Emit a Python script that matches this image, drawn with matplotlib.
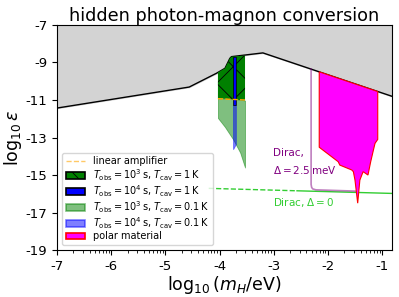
import numpy as np
import matplotlib
matplotlib.use("Agg")
import matplotlib.pyplot as plt
from matplotlib.ticker import FixedLocator
from matplotlib.patches import Patch

plt.rcParams['axes.unicode_minus'] = False
plt.rcParams['font.family'] = ['DejaVu Sans']
plt.rcParams['hatch.linewidth'] = 0.6

# ---- data (log10 m_H [eV], log10 epsilon) ----
excl_x = [-7.0, -4.56, -4.06, -3.9, -3.81, -3.78, -3.2, -0.82]
excl_y = [-11.43, -10.31, -9.58, -9.31, -8.78, -8.69, -8.49, -10.8]

hot3_x = [-4.03, -3.9, -3.81, -3.78, -3.53]
hot3_top = [-9.53, -9.31, -8.78, -8.69, -8.63]
hot3_bot = [-10.93, -10.94, -10.95, -10.96, -11.03]

cold3_x = [-4.03, -3.9, -3.75, -3.62, -3.53]
cold3_top = [-10.93, -10.94, -10.95, -10.98, -11.03]
cold3_bot = [-11.96, -12.44, -13.1, -13.8, -14.6]

hot4_x = [-3.75, -3.70]
hot4_top = [-8.70, -8.69]
hot4_bot = [-11.27, -11.27]

cold4_x = [-3.75, -3.70]
cold4_top = [-11.27, -11.27]
cold4_bot = [-13.62, -13.35]

amp_x = [-4.03, -3.53]
amp_y = [-10.93, -11.0]

polar_x = [-2.16, -2.16, -1.81, -1.78, -1.56, -1.53, -1.50, -1.45, -1.41,
           -1.35, -1.26, -1.21, -1.16, -1.13, -1.08, -1.08]
polar_y = [-9.50, -13.52, -14.29, -14.47, -14.73, -14.82, -15.27, -16.5,
           -15.27, -14.82, -15.0, -14.29, -13.67, -13.31, -13.1, -10.55]

dirac25_x = [-2.31, -2.31, -2.30, -2.28, -2.22, -1.45]
dirac25_y = [-9.35, -15.5, -15.66, -15.74, -15.79, -15.86]

dirac0_dash_x = [-4.2, -2.57]
dirac0_dash_y = [-15.71, -15.84]
dirac0_solid_x = [-2.57, -0.82]
dirac0_solid_y = [-15.84, -15.98]

xticks = [-7, -6, -5, -4, -3, -2, -1]
yticks = [-19, -17, -15, -13, -11, -9, -7]

labels = ['linear amplifier',
          r'$T_{\rm obs}=10^3\,$s, $T_{\rm cav}=1\,$K',
          r'$T_{\rm obs}=10^4\,$s, $T_{\rm cav}=1\,$K',
          r'$T_{\rm obs}=10^3\,$s, $T_{\rm cav}=0.1\,$K',
          r'$T_{\rm obs}=10^4\,$s, $T_{\rm cav}=0.1\,$K',
          'polar material']

# ---- figure ----
fig = plt.figure(figsize=(3.99, 2.97), dpi=100)
ax = fig.add_axes([0.143, 0.158, 0.839, 0.758])

ax.fill_between(excl_x, excl_y, -7, color='lightgray', zorder=1)
ax.plot(excl_x, excl_y, color='k', lw=1.0, zorder=2)

ax.plot(dirac0_dash_x, dirac0_dash_y, color='limegreen', lw=1.0, ls='--', zorder=2)
ax.plot(dirac0_solid_x, dirac0_solid_y, color='limegreen', lw=1.0, zorder=2)
ax.plot(dirac25_x, dirac25_y, color='purple', alpha=0.5, lw=1.2, zorder=2)

amp, = ax.plot(amp_x, amp_y, color='orange', ls='--', lw=1.0, zorder=6)
ax.fill_between(hot3_x, hot3_bot, hot3_top, facecolor='green', edgecolor='k',
                hatch='x', lw=0, zorder=4)
ax.fill_between(hot4_x, hot4_bot, hot4_top, facecolor='blue', edgecolor='k',
                lw=0.5, zorder=5)
ax.fill_between(cold3_x, cold3_bot, cold3_top, color='green', alpha=0.5,
                lw=0.6, zorder=3)
ax.fill_between(cold4_x, cold4_bot, cold4_top, color='blue', alpha=0.5,
                lw=0.6, zorder=3.5)
ax.fill(polar_x, polar_y, facecolor='magenta', edgecolor='red', lw=0.8, zorder=3)

ax.text(-3.02, -13.83, 'Dirac,', color='purple', fontsize=7.5, va='center')
ax.text(-3.02, -14.72, r'$\Delta=2.5\,$meV', color='purple', fontsize=7.5, va='center')
ax.text(-3.02, -16.44, r'Dirac, $\Delta=0$', color='limegreen', fontsize=7.5, va='center')

ax.set_xlim(-7, -0.82)
ax.set_ylim(-19, -7)
ax.set_xticks(xticks)
ax.set_xticklabels([str(t) for t in xticks])
ax.set_yticks(yticks)
ax.set_yticklabels([str(t) for t in yticks])
minor = [n + np.log10(k) for n in range(-7, 0) for k in range(2, 10)]
ax.xaxis.set_minor_locator(FixedLocator(minor))
ax.tick_params(axis='both', which='major', labelsize=9.5, length=3.5)
ax.tick_params(axis='x', which='minor', length=2)

ax.set_xlabel(r'$\log_{10}(m_H/{\rm eV})$', fontsize=12.5, labelpad=1)
ax.set_ylabel(r'$\log_{10}\varepsilon$', fontsize=12.5, labelpad=1)
ax.set_title('hidden photon-magnon conversion', fontsize=12.7, pad=2)

handles = [
    plt.Line2D([], [], color='orange', ls='--', lw=1.0, alpha=0.6),
    Patch(facecolor='green', edgecolor='k', hatch='x', lw=1.2),
    Patch(facecolor='blue', edgecolor='k', lw=1.2),
    Patch(facecolor='green', edgecolor='green', alpha=0.5, lw=1.2),
    Patch(facecolor='blue', edgecolor='blue', alpha=0.5, lw=1.2),
    Patch(facecolor='magenta', edgecolor='red', lw=1.2),
]
ax.legend(handles=handles, labels=labels, loc='lower left', fontsize=7,
          framealpha=0.8, labelspacing=0.05, borderpad=0.4)

fig.savefig('out.png', dpi=100)
